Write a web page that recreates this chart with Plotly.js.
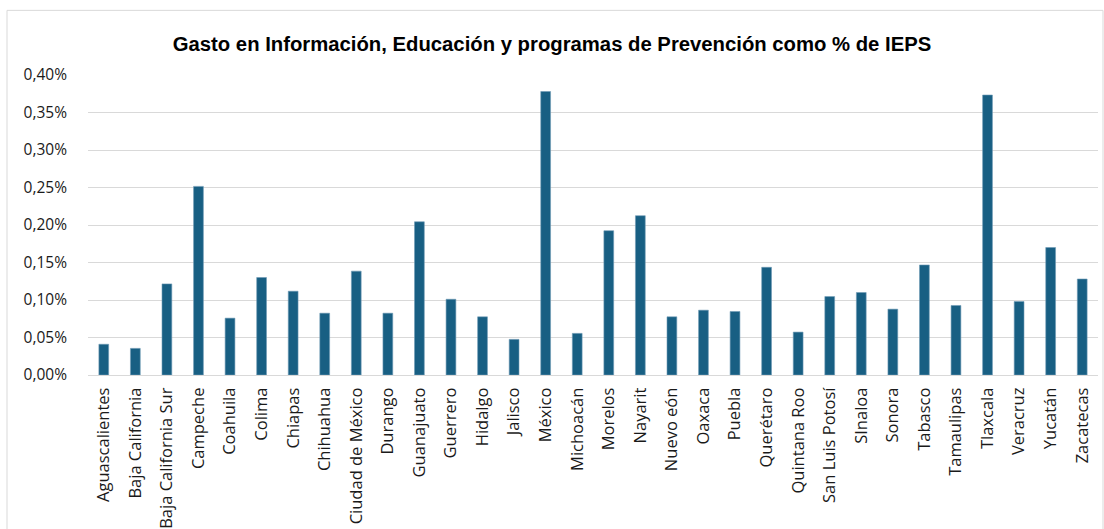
<!DOCTYPE html>
<html>
<head>
<meta charset="utf-8">
<script src="https://cdn.plot.ly/plotly-3.0.1.min.js"></script>
<style>html,body{margin:0;padding:0;background:#fff;}#chart{width:1104px;height:529px;}</style>
</head>
<body>
<div id="chart"></div>
<script>
const estados = ["Aguascalientes","Baja California","Baja California Sur","Campeche","Coahuila","Colima","Chiapas","Chihuahua","Ciudad de México","Durango","Guanajuato","Guerrero","Hidalgo","Jalisco","México","Michoacán","Morelos","Nayarit","Nuevo eón","Oaxaca","Puebla","Querétaro","Quintana Roo","San Luis Potosí","SInaloa","Sonora","Tabasco","Tamaulipas","Tlaxcala","Veracruz","Yucatán","Zacatecas"];
// % del IEPS
const gastoPct = [0.041,0.0355,0.1215,0.2515,0.0758,0.130,0.1117,0.0824,0.1385,0.0824,0.2043,0.101,0.0776,0.0475,0.378,0.0555,0.1924,0.2124,0.0776,0.0864,0.0847,0.1436,0.0572,0.1046,0.110,0.0878,0.1467,0.0927,0.3733,0.098,0.170,0.128];
const yTicks = [0,0.05,0.10,0.15,0.20,0.25,0.30,0.35,0.40];
const yTickText = ["0,00%","0,05%","0,10%","0,15%","0,20%","0,25%","0,30%","0,35%","0,40%"];
const titulo = "Gasto en Información, Educación y programas de Prevención como % de IEPS";

const W = 1104, H = 529, L = 88, R = 6, T = 74.7, B = 154;
const pw = W - L - R, ph = H - T - B;

Plotly.newPlot('chart', [{
  type: 'bar',
  x: estados,
  y: gastoPct,
  marker: {color: '#185f83', line: {color: '#6f9bb5', width: 0.6}},
  hoverinfo: 'x+y'
}], {
  width: W, height: H,
  margin: {l: L, r: R, t: T, b: B},
  paper_bgcolor: '#ffffff',
  plot_bgcolor: '#ffffff',
  bargap: 0.69,
  showlegend: false,
  title: {
    text: '<b>' + titulo + '</b>',
    font: {family: 'Liberation Sans Narrow, Arial Narrow, sans-serif', size: 20.3, color: '#000000'},
    x: 0.5, xref: 'container', xanchor: 'center',
    y: 1 - 44/529, yref: 'container', yanchor: 'middle'
  },
  xaxis: {
    type: 'category',
    tickangle: -90,
    tickfont: {family: 'Open Sans, sans-serif', size: 16.5, color: '#1a1a1a'},
    showline: true, linecolor: '#d9d9d9', linewidth: 1,
    showgrid: false, ticks: '', ticklabelstandoff: 5,
    fixedrange: true
  },
  yaxis: {
    range: [0, 0.40],
    tickmode: 'array',
    tickvals: yTicks,
    ticktext: yTickText,
    tickfont: {family: 'Open Sans, sans-serif', size: 15.5, color: '#1a1a1a'},
    showgrid: true, gridcolor: '#d9d9d9', gridwidth: 1,
    zeroline: false, showline: false, ticks: '',
    ticklabelstandoff: 20,
    fixedrange: true
  },
  shapes: [{
    type: 'rect', xref: 'paper', yref: 'paper',
    x0: (7 - L)/pw, x1: (1103 - L)/pw,
    y0: (T + ph - 540)/ph, y1: (T + ph - 10)/ph,
    line: {color: '#d9d9d9', width: 1},
    fillcolor: 'rgba(0,0,0,0)', layer: 'below'
  }]
}, {displayModeBar: false, staticPlot: true});
</script>
</body>
</html>
